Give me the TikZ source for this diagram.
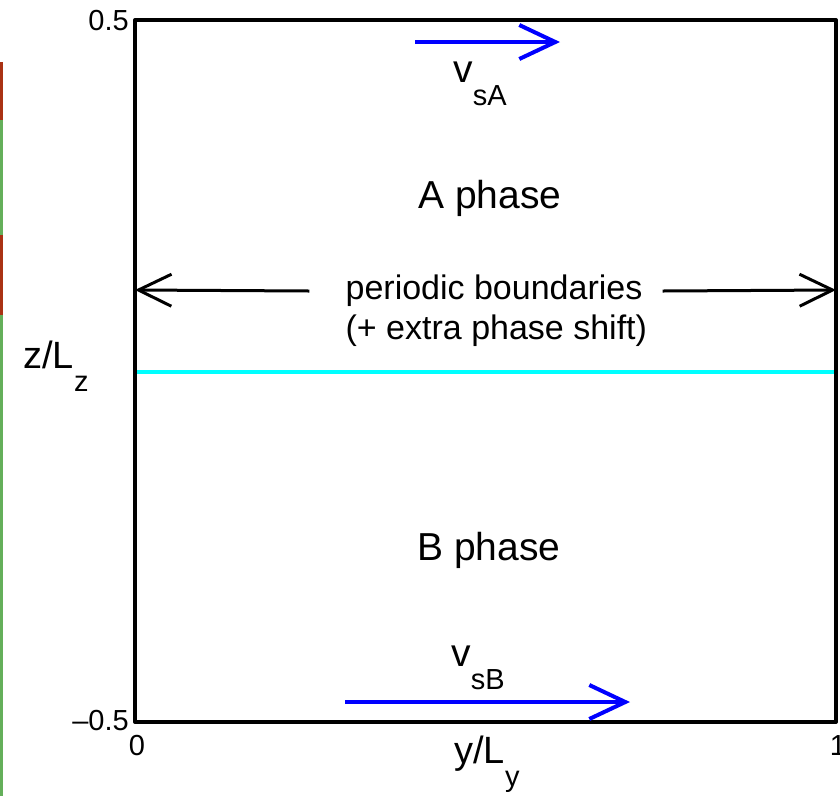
\documentclass[tikz,border=0pt]{standalone}
\usepackage{fontspec}
\setmainfont{Liberation Sans}
\usepackage{tikz}
\usetikzlibrary{calc, arrows.meta}
\usepackage{tkz-euclide}

\definecolor{zcyan}{RGB}{0,255,255}
\definecolor{stripred}{RGB}{170,50,20}
\definecolor{stripgreen}{RGB}{100,175,90}
\newcommand{\lowsub}[1]{\raisebox{-0.6em}{\fontsize{29}{34}\selectfont #1}}

\begin{document}
\begin{tikzpicture}[x=1pt, y=-1pt,
    vel/.style={blue, line width=4pt, -{Straight Barb[length=36pt, width=34pt, line width=4pt]}},
    per/.style={black, line width=3pt, -{Straight Barb[length=33pt, width=32pt, line width=3pt]}},
    lbl/.style={inner sep=0pt, font=\fontsize{39}{46}\selectfont},
    tick/.style={inner sep=0pt, font=\fontsize{29}{34}\selectfont}]
  \useasboundingbox (0,0) rectangle (840,796);
  % strips at the left edge
  \fill[stripred] (0,62) rectangle (2.5,120);
  \fill[stripgreen] (0,120) rectangle (2.5,235);
  \fill[stripred] (0,235) rectangle (2.5,315);
  \fill[stripgreen] (0,315) rectangle (2.5,796);
  % axes
  \tkzDefPoints{135/20/A, 135/722/B, 836/722/C, 836/20/D}
  \tkzDefPoints{135/372/M, 836/372/N, 135/290/PL, 836/290/PR}
  \tkzDrawSegments[zcyan, line width=4pt](M,N)
  \tkzDrawPolygon[black, line width=4pt](A,B,C,D)
  % tick labels
  \node[tick, anchor=east] (top) at (129,21) {0.5};
  \node[tick, anchor=east] (bot) at (129,721) {–0.5};
  \node[tick] (zero) at (137,746) {0};
  \node[tick] (one) at (838,746) {1};
  \node[lbl, font=\fontsize{38}{44}\selectfont] (zlab) at (56,366) {z/L\lowsub{z}};
  \node[lbl, font=\fontsize{38}{44}\selectfont] (ylab) at (487,764) {y/L\lowsub{y}};
  % phases
  \node[lbl] (aph) at (490,198) {A phase};
  \node[lbl] (bph) at (489,550) {B phase};
  % periodic boundaries
  \node[lbl, font=\fontsize{34}{40}\selectfont] (pb) at (494,291) {periodic boundaries};
  \node[lbl, font=\fontsize{34}{40}\selectfont, anchor=west] (ps) at ($(pb.west)+(0,40)$) {(+ extra phase shift)};
  \draw[per] ([xshift=-36pt]pb.west) -- (PL);
  \draw[per] ([xshift=20pt]pb.east) -- (PR);
  % velocities
  \coordinate (va0) at (415,42);
  \coordinate (va1) at (560,42);
  \draw[vel] (va0) -- (va1);
  \node[lbl] (vsa) at (480,84) {v\lowsub{sA}};
  \coordinate (vb0) at (345,702);
  \coordinate (vb1) at (630,702);
  \draw[vel] (vb0) -- (vb1);
  \node[lbl] (vsb) at (478,668) {v\lowsub{sB}};
\end{tikzpicture}
\end{document}
